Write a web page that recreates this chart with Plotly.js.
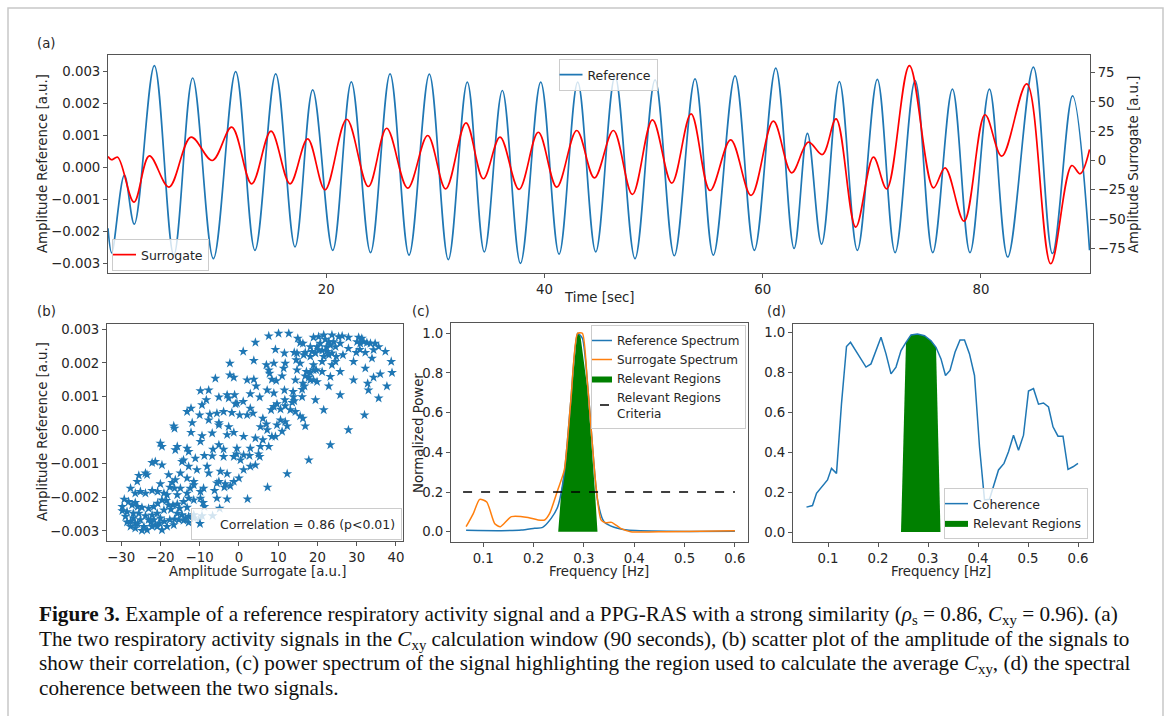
<!DOCTYPE html>
<html>
<head>
<meta charset="utf-8">
<script src="https://cdn.plot.ly/plotly-3.0.1.min.js"></script>
<style>html,body{margin:0;padding:0;background:#fff;}#chart{width:1168px;height:716px;}</style>
</head>
<body>
<div id="chart"></div>
<script>
// ---------------- DATA ----------------
// (a) Reference signal: extrema (time s, amplitude in units of 1e-3 a.u.)
const refT = [0, 0.34, 1.5, 2.41, 4.25, 6.03, 7.76, 9.66, 11.7, 13.47, 15.37, 17.14, 18.76, 20.6, 22.3, 24.06, 25.85, 27.59, 29.45, 31.19, 32.93, 34.49, 36.14, 37.8, 39.66, 41.34, 43.05, 44.7, 46.47, 48.3, 50.14, 51.9, 53.8, 55.48, 57.47, 59.24, 61.2, 62.88, 64.1, 65.4, 67.03, 68.68, 70.51, 72.14, 73.97, 75.59, 77.39, 79.0, 80.78, 82.46, 84.81, 86.56, 88.4, 89.96];
const refV_milli = [-1.9, -2.67, -0.24, -1.77, 3.19, -2.74, 2.80, -2.85, 3.0, -2.59, 2.93, -2.48, 2.43, -2.59, 2.68, -2.66, 2.93, -2.74, 2.92, -2.88, 2.67, -2.64, 2.41, -3.0, 2.67, -2.71, 2.67, -2.64, 2.85, -2.85, 2.74, -2.76, 2.77, -2.74, 2.87, -2.59, 3.11, -2.53, 1.07, -2.40, 2.69, -2.59, 2.76, -2.66, 2.72, -2.66, 2.45, -2.66, 2.45, -2.80, 3.14, -2.69, 2.24, -2.59];
// (a) Surrogate signal: extrema (time s, amplitude a.u.)
const surT = [0, 0.34, 0.89, 2.38, 3.79, 5.59, 7.61, 9.56, 11.34, 13.17, 14.94, 16.68, 18.3, 19.89, 21.88, 23.86, 25.54, 27.47, 29.3, 30.95, 32.81, 34.4, 35.93, 37.67, 39.44, 41.13, 42.96, 44.58, 46.32, 48.06, 49.9, 51.67, 53.44, 55.18, 57.07, 58.94, 60.98, 62.66, 64.19, 65.47, 66.73, 68.53, 70.15, 71.37, 73.45, 75.65, 76.72, 78.46, 80.38, 81.91, 84.2, 86.4, 88.33, 89.1, 89.96];
const surV = [3.4, 0.6, 2.8, -35.5, 4.0, -22.7, 19.9, 0, 28.4, -19.9, 25.0, -19.9, 18.5, -25.0, 35.2, -22.2, 27.5, -23.6, 21.3, -24.2, 32.1, -15.6, 19.9, -24.7, 24.1, -22.7, 25.6, -14.8, 25.6, -29.0, 34.7, -19.3, 39.8, -25.6, 17.6, -29.8, 33.5, -10.5, 15.6, 5.1, 35.5, -56.8, 2.8, -24.2, 81.0, -23.3, -6.3, -51.7, 39.0, 3.7, 65.4, -88.1, -4.3, -11.3, 9.4];

// (b) scatter: surrogate amplitude (a.u.) vs reference amplitude (units of 1e-3 a.u.)
const scatX = [7.6,10.1,12.7,15.0,15.6,16.3,19.0,20.3,21.6,22.0,22.9,23.7,24.1,25.4,26.3,27.9,30.5,31.3,31.8,32.6,33.5,34.7,35.6,4.2,18.2,19.9,20.7,22.3,23.3,24.6,25.8,30.9,30.1,
1.1,9.3,11.6,14.1,14.8,16.5,16.9,18.6,19.5,20.3,21.2,22.4,23.7,24.8,26.5,27.9,29.9,30.8,32.2,34.3,37.3,33.9,7.0,8.9,11.8,14.6,15.6,19.0,21.2,23.7,24.6,22.9,29.2,38.8,3.8,18.2,21.6,
-2.3,-2.3,-6.0,7.6,7.8,11.4,14.8,17.2,18.2,19.0,19.7,21.2,25.8,32.2,39.0,36.0,-1.3,2.1,3.8,8.4,9.5,11.0,14.4,16.9,17.8,18.2,19.0,19.9,23.3,29.2,4.4,7.2,16.3,16.7,22.9,37.7,34.3,
-7.7,-9.8,-3.0,-1.1,2.9,5.3,8.9,11.6,13.8,16.1,19.5,21.6,25.8,35.6,33.0,32.8,-5.1,-2.6,-0.5,11.7,13.9,14.1,13.6,16.1,-13.2,-12.2,-9.4,-8.3,8.9,9.7,-0.9,1.1,2.9,3.6,
-16.6,-16.4,-11.9,-10.0,-7.4,-5.6,-3.9,-1.8,0.2,6.1,7.0,8.2,10.6,11.8,13.1,15.6,16.3,16.9,10.6,7.2,9.7,12.3,14.4,11.8,32.0,27.9,5.5,-7.7,-5.1,2.1,
-20.0,-19.6,-12.2,-9.4,-6.8,-3.0,-1.3,1.2,4.2,6.1,8.4,9.3,11.0,-13.2,-9.8,-15.7,-5.1,-0.5,2.9,5.5,7.6,23.3,-5.1,-2.6,
-22.1,-21.3,-19.6,-16.2,-14.5,-12.8,-11.1,-8.8,-6.6,-3.9,-0.6,1.2,2.7,5.0,5.3,0.4,17.8,-1.3,-6.8,-3.9,-14.1,
-25.5,-23.8,-23.4,-25.9,-17.9,-16.2,-14.9,-12.8,-10.7,-7.7,-4.7,-3.0,-1.3,0.0,1.2,2.9,4.2,12.3,-8.1,-20.0,-17.0,-13.2,-5.1,-11.5,
-27.6,-26.4,-25.1,-23.8,-22.1,-20.7,-19.1,-17.6,-16.4,-14.9,-12.4,-11.5,-9.0,-5.6,-3.7,-2.2,7.3,-6.2,-13.2,-9.8,-15.7,-18.3,-5.6,-3.5,
-29.2,-28.1,-27.2,-26.4,-25.8,-24.7,-23.0,-21.7,-20.7,-19.6,-18.5,-16.8,-15.7,-14.1,-12.8,-11.5,-9.1,-8.8,-4.9,-13.2,-15.1,-17.3,-19.1,-20.8,-22.1,-23.8,-25.5,-26.9,-28.5,-29.7,2.2,-3.0,-9.8,-17.9,
-29.7,-28.9,-27.6,-26.4,-25.1,-24.2,-23.4,-22.4,-21.3,-20.2,-19.0,-17.6,-16.4,-15.3,-14.1,-12.8,-11.5,-10.2,-6.7,-19.6,-20.8,-24.7,-25.8,-26.9,-16.6,-18.3,-15.7,-14.5,-21.7,-20.0,-12.8,-11.5,-9.4,-13.6,-23.0,-22.1,-28.5,-27.6,-26.4];
const scatY_milli = [2.80,2.88,2.88,2.73,2.60,2.58,2.76,2.78,2.83,2.70,2.63,2.83,2.63,2.78,2.80,2.76,2.76,2.73,2.63,2.60,2.58,2.58,2.48,2.61,2.48,2.48,2.58,2.48,2.53,2.48,2.58,2.58,2.63,
2.34,2.40,2.29,2.31,2.29,2.24,2.31,2.34,2.29,2.39,2.37,2.34,2.29,2.19,2.24,2.43,2.31,2.40,2.31,2.39,2.34,2.14,1.94,1.99,1.99,2.09,1.99,1.94,2.04,1.94,2.04,2.24,2.04,2.04,2.07,2.19,2.19,
1.99,1.64,1.54,1.79,1.69,1.84,1.79,1.74,1.71,1.79,1.79,1.74,1.74,1.84,1.71,1.67,1.57,1.49,1.51,1.51,1.47,1.61,1.49,1.61,1.57,1.49,1.49,1.44,1.59,1.49,1.31,1.19,1.39,1.31,1.31,1.31,1.57,
1.19,1.17,1.05,1.05,1.08,0.98,1.10,1.19,1.15,1.21,0.90,0.60,1.05,0.95,1.19,1.39,0.98,0.95,0.80,0.90,0.99,0.87,0.82,0.99,0.55,0.65,0.75,0.90,0.70,0.78,0.78,0.85,0.65,0.50,
0.12,0.05,0.22,0.45,0.47,0.50,0.55,0.52,0.45,0.35,0.18,0.60,0.62,0.72,0.60,0.42,0.35,0.12,0.30,0.005,0.15,0.12,0.55,0.25,0.45,0.005,0.10,0.30,0.22,0.45,
-0.39,-0.49,-0.07,-0.17,-0.09,-0.14,-0.07,-0.19,-0.24,-0.29,-0.19,-0.19,-0.04,-0.54,-0.34,-0.49,-0.44,-0.54,-0.54,-0.49,-0.49,-0.44,0.15,0.10,
-0.97,-0.94,-1.04,-0.59,-0.94,-0.64,-0.84,-0.76,-0.57,-0.57,-0.71,-0.74,-0.76,-0.71,-0.79,-0.89,-0.89,-0.79,-0.77,-0.79,-0.89,
-1.35,-1.28,-1.33,-1.53,-1.33,-1.48,-1.28,-1.08,-1.18,-1.28,-1.23,-1.30,-1.53,-1.43,-1.18,-1.08,-1.04,-1.30,-1.08,-1.60,-1.56,-1.43,-1.53,-1.53,
-1.73,-1.88,-1.83,-1.88,-1.80,-1.83,-1.88,-1.70,-1.73,-1.73,-1.73,-1.63,-1.73,-1.58,-1.70,-1.66,-1.70,-1.80,-1.88,-1.83,-1.93,-1.93,-2.03,-1.60,
-2.06,-2.13,-2.23,-2.16,-2.28,-2.30,-2.33,-2.28,-2.18,-2.08,-2.10,-2.23,-2.20,-2.13,-2.03,-2.08,-2.16,-2.28,-2.33,-2.30,-2.33,-2.36,-2.38,-2.48,-2.53,-2.55,-2.48,-2.48,-2.43,-2.28,-2.05,-2.05,-2.03,-2.23,
-2.40,-2.57,-2.72,-2.77,-2.67,-2.87,-2.97,-2.75,-2.82,-2.77,-2.72,-2.67,-2.65,-2.67,-2.69,-2.57,-2.52,-2.67,-2.55,-2.97,-2.87,-2.99,-2.79,-2.62,-2.82,-2.87,-2.48,-2.52,-2.67,-2.62,-2.75,-2.62,-2.55,-2.62,-2.67,-2.87,-2.74,-2.87,-2.92];

// (c) power spectra
const refSpecF = [0.066, 0.136, 0.176, 0.202, 0.218, 0.235, 0.248, 0.261, 0.274, 0.2875, 0.297, 0.31, 0.327, 0.34, 0.36, 0.386, 0.465, 0.6];
const refSpecP = [0.007, 0.005, 0.008, 0.017, 0.022, 0.067, 0.126, 0.294, 0.66, 1.0, 0.975, 0.66, 0.16, 0.05, 0.022, 0.008, 0.002, 0.002];
const surSpecF = [0.066, 0.080, 0.093, 0.107, 0.123, 0.134, 0.156, 0.189, 0.209, 0.222, 0.232, 0.248, 0.261, 0.274, 0.2875, 0.297, 0.307, 0.324, 0.334, 0.343, 0.355, 0.373, 0.393, 0.465, 0.6];
const surSpecP = [0.025, 0.09, 0.163, 0.15, 0.04, 0.025, 0.076, 0.072, 0.059, 0.059, 0.092, 0.21, 0.31, 0.66, 1.0, 1.0, 0.75, 0.23, 0.06, 0.045, 0.047, 0.017, 0.0, 0.0, 0.005];
const regionCF = [0.249, 0.255, 0.263, 0.274, 0.2865, 0.293, 0.307, 0.322, 0.327];
const regionCP = [0, 0.2, 0.35, 0.66, 1.0, 0.99, 0.72, 0.2, 0];
const criteriaF = [0.06, 0.6];
const criteriaP = [0.2, 0.2];

// (d) coherence
const cohF = [0.057,0.069,0.077,0.089,0.099,0.107,0.117,0.127,0.137,0.145,0.159,0.176,0.186,0.206,0.216,0.226,0.236,0.246,0.256,0.266,0.279,0.293,0.306,0.316,0.326,0.335,0.344,0.354,0.364,0.373,0.383,0.393,0.403,0.413,0.423,0.432,0.441,0.452,0.461,0.471,0.481,0.491,0.501,0.511,0.521,0.531,0.541,0.550,0.560,0.570,0.580,0.590,0.600];
const cohV = [0.125,0.133,0.194,0.228,0.261,0.319,0.294,0.643,0.929,0.950,0.892,0.826,0.842,0.975,0.892,0.792,0.826,0.909,0.950,0.987,0.992,0.983,0.958,0.925,0.867,0.784,0.809,0.900,0.962,0.962,0.892,0.784,0.427,0.161,0.164,0.236,0.311,0.344,0.402,0.485,0.410,0.485,0.706,0.718,0.640,0.646,0.626,0.527,0.480,0.480,0.314,0.327,0.344];
const regionDF = [0.246, 0.256, 0.266, 0.279, 0.293, 0.306, 0.316, 0.325];
const regionDV = [0, 0.95, 0.987, 0.992, 0.983, 0.958, 0.925, 0];

// ---------------- LAYOUT HELPERS ----------------
const W = 1168, H = 716;
const dx = (a, b) => [a / W, b / W];
const dy = (top, bot) => [1 - bot / H, 1 - top / H];
const FONT = 'DejaVu Sans';
const FS = 13.3;
const TXT = '#262626';
const BLUE = '#1f77b4', ORANGE = '#ff7f0e', RED = '#ff0000', GREEN = '#008000';

function axis(extra) {
  return Object.assign({
    showline: true, mirror: true, linecolor: '#555', linewidth: 1,
    ticks: 'outside', ticklen: 4, tickwidth: 1, tickcolor: '#555',
    showgrid: false, zeroline: false, fixedrange: true,
    tickfont: {family: FONT, size: FS, color: TXT}
  }, extra);
}
function legendBox(extra) {
  return Object.assign({
    bgcolor: 'rgba(255,255,255,0.8)', bordercolor: '#cccccc', borderwidth: 1,
    font: {family: FONT, size: 12.5, color: TXT}, xref: 'paper', yref: 'paper',
    tracegroupgap: 0, itemwidth: 30, indentation: -12
  }, extra);
}
function label(text, xpx, ypx, opts) {
  return Object.assign({
    text: text, xref: 'paper', yref: 'paper', x: xpx / W, y: 1 - ypx / H,
    xanchor: 'center', yanchor: 'middle', showarrow: false,
    font: {family: FONT, size: FS, color: TXT}
  }, opts || {});
}
function caption(text, ypx) {
  return {
    text: text, xref: 'paper', yref: 'paper', x: 37 / W, y: 1 - ypx / H,
    xanchor: 'left', yanchor: 'middle', showarrow: false, align: 'left',
    font: {family: 'Liberation Serif', size: 21.2, color: '#111'}
  };
}

const milli = v => v / 1000;

const traces = [
  {x: refT, y: refV_milli.map(milli), xaxis: 'x', yaxis: 'y', mode: 'lines', name: 'Reference',
   line: {color: BLUE, width: 1.7, shape: 'spline', smoothing: 1}, legend: 'legend'},
  {x: surT, y: surV, xaxis: 'x', yaxis: 'y2', mode: 'lines', name: 'Surrogate',
   line: {color: RED, width: 1.7, shape: 'spline', smoothing: 1}, legend: 'legend2'},
  {x: scatX, y: scatY_milli.map(milli), xaxis: 'x2', yaxis: 'y3', mode: 'markers',
   name: 'Correlation = 0.86 (p&lt;0.01)',
   marker: {symbol: 'star', size: 7.5, color: BLUE, line: {width: 0}}, legend: 'legend3'},
  {x: regionCF, y: regionCP, xaxis: 'x3', yaxis: 'y4', mode: 'lines', fill: 'toself',
   fillcolor: GREEN, line: {width: 0, color: GREEN}, name: 'Relevant Regions', legend: 'legend4', legendrank: 3},
  {x: refSpecF, y: refSpecP, xaxis: 'x3', yaxis: 'y4', mode: 'lines', name: 'Reference Spectrum',
   line: {color: BLUE, width: 1.5, shape: 'spline', smoothing: 0.6}, legend: 'legend4', legendrank: 1},
  {x: surSpecF, y: surSpecP, xaxis: 'x3', yaxis: 'y4', mode: 'lines', name: 'Surrogate Spectrum',
   line: {color: ORANGE, width: 1.5, shape: 'spline', smoothing: 0.6}, legend: 'legend4', legendrank: 2},
  {x: criteriaF, y: criteriaP, xaxis: 'x3', yaxis: 'y4', mode: 'lines', name: 'Relevant Regions<br>Criteria',
   line: {color: '#000', width: 1.5, dash: 'dash'}, legend: 'legend4', legendrank: 4},
  {x: regionDF, y: regionDV, xaxis: 'x4', yaxis: 'y5', mode: 'lines', fill: 'toself',
   fillcolor: GREEN, line: {width: 0, color: GREEN}, name: 'Relevant Regions', legend: 'legend5', legendrank: 2},
  {x: cohF, y: cohV, xaxis: 'x4', yaxis: 'y5', mode: 'lines', name: 'Coherence',
   line: {color: BLUE, width: 1.5}, legend: 'legend5', legendrank: 1}
];

const layout = {
  width: W, height: H, margin: {l: 0, r: 0, t: 0, b: 0},
  paper_bgcolor: '#fff', plot_bgcolor: '#fff', showlegend: true,
  font: {family: FONT, size: FS, color: TXT},
  // panel (a)
  xaxis: axis({domain: dx(108, 1090), range: [0, 90], tickvals: [20, 40, 60, 80], anchor: 'y'}),
  yaxis: axis({domain: dy(55, 273), range: [-0.0033, 0.00352], tickvals: [-0.003, -0.002, -0.001, 0, 0.001, 0.002, 0.003], tickformat: '.3f', anchor: 'x'}),
  yaxis2: axis({domain: dy(55, 273), range: [-96, 90], tickvals: [-75, -50, -25, 0, 25, 50, 75], overlaying: 'y', side: 'right', anchor: 'x', mirror: false}),
  // panel (b)
  xaxis2: axis({domain: dx(107, 403), range: [-33.6, 41.8], tickvals: [-30, -20, -10, 0, 10, 20, 30, 40], anchor: 'y3'}),
  yaxis3: axis({domain: dy(324, 541), range: [-0.0033, 0.00316], tickvals: [-0.003, -0.002, -0.001, 0, 0.001, 0.002, 0.003], tickformat: '.3f', anchor: 'x2'}),
  // panel (c)
  xaxis3: axis({domain: dx(451, 748), range: [0.036, 0.626], tickvals: [0.1, 0.2, 0.3, 0.4, 0.5, 0.6], tickformat: '.1f', anchor: 'y4'}),
  yaxis4: axis({domain: dy(323, 542), range: [-0.052, 1.052], tickvals: [0, 0.2, 0.4, 0.6, 0.8, 1.0], tickformat: '.1f', anchor: 'x3'}),
  // panel (d)
  xaxis4: axis({domain: dx(793, 1093), range: [0.030, 0.630], tickvals: [0.1, 0.2, 0.3, 0.4, 0.5, 0.6], tickformat: '.1f', anchor: 'y5'}),
  yaxis5: axis({domain: dy(324, 542), range: [-0.0496, 1.0416], tickvals: [0, 0.2, 0.4, 0.6, 0.8, 1.0], tickformat: '.1f', anchor: 'x4'}),
  legend: legendBox({x: 608 / W, y: 1 - 59 / H, xanchor: 'center', yanchor: 'top'}),
  legend2: legendBox({x: 112 / W, y: 1 - 271 / H, xanchor: 'left', yanchor: 'bottom'}),
  legend3: legendBox({x: 402 / W, y: 1 - 540 / H, xanchor: 'right', yanchor: 'bottom'}),
  legend4: legendBox({x: 746 / W, y: 1 - 325 / H, xanchor: 'right', yanchor: 'top', indentation: -15, font: {family: FONT, size: 12, color: TXT}}),
  legend5: legendBox({x: 1088 / W, y: 1 - 539 / H, xanchor: 'right', yanchor: 'bottom'}),
  shapes: [
    {type: 'rect', xref: 'paper', yref: 'paper', x0: 8 / W, x1: 1163 / W, y0: -0.05, y1: 1 - 8 / H,
     line: {color: '#c8c8c8', width: 1.5}, fillcolor: 'rgba(0,0,0,0)', layer: 'below'}
  ],
  annotations: [
    label('(a)', 46, 44),
    label('(b)', 46, 311),
    label('(c)', 421, 311),
    label('(d)', 776, 311),
    label('Amplitude Reference [a.u.]', 42, 164, {textangle: -90}),
    label('Amplitude Surrogate [a.u.]', 1133, 165, {textangle: -90}),
    label('Time [sec]', 599, 297),
    label('Amplitude Reference [a.u.]', 42, 432, {textangle: -90}),
    label('Amplitude Surrogate [a.u.]', 257, 571),
    label('Normalized Power', 418, 433, {textangle: -90}),
    label('Frequency [Hz]', 599, 571),
    label('Frequency [Hz]', 941, 571),
    caption('<b>Figure 3.</b> Example of a reference respiratory activity signal and a PPG-RAS with a strong similarity (<i>ρ</i><sub>s</sub> = 0.86, <i>C</i><sub>xy</sub> = 0.96). (a)', 615),
    caption('The two respiratory activity signals in the <i>C</i><sub>xy</sub> calculation window (90 seconds), (b) scatter plot of the amplitude of the signals to', 640),
    caption('show their correlation, (c) power spectrum of the signal highlighting the region used to calculate the average <i>C</i><sub>xy</sub>, (d) the spectral', 664),
    caption('coherence between the two signals.', 688)
  ]
};

Plotly.newPlot('chart', traces, layout, {displayModeBar: false, staticPlot: true});
</script>
</body>
</html>
